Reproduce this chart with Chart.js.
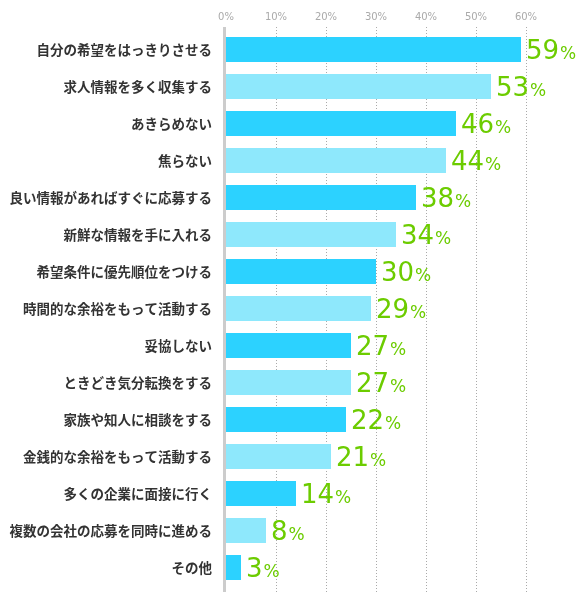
<!DOCTYPE html>
<html lang="ja">
<head>
<meta charset="utf-8">
<title>chart</title>
<script src="https://cdn.jsdelivr.net/npm/chart.js@4.4.1/dist/chart.umd.min.js"></script>
<style>
  html, body { margin: 0; padding: 0; background: #fff; }
  #wrap { width: 579px; height: 597px; }
</style>
</head>
<body>
<div id="wrap"><canvas id="chart" width="579" height="597"></canvas></div>
<script>
const categories = [
  "自分の希望をはっきりさせる",
  "求人情報を多く収集する",
  "あきらめない",
  "焦らない",
  "良い情報があればすぐに応募する",
  "新鮮な情報を手に入れる",
  "希望条件に優先順位をつける",
  "時間的な余裕をもって活動する",
  "妥協しない",
  "ときどき気分転換をする",
  "家族や知人に相談をする",
  "金銭的な余裕をもって活動する",
  "多くの企業に面接に行く",
  "複数の会社の応募を同時に進める",
  "その他"
];
// bar lengths as drawn in the picture
const barValues = [59, 53, 46, 44, 38, 34, 30, 29, 25, 25, 24, 21, 14, 8, 3];
// numbers printed next to the bars
const labelValues = [59, 53, 46, 44, 38, 34, 30, 29, 27, 27, 22, 21, 14, 8, 3];
const tickValues = [0, 10, 20, 30, 40, 50, 60];

const darkBlue = "#2cd2ff";
const lightBlue = "#8ee8fc";
const green = "#6ccc00";

// dotted grid + gray base line, drawn before the bars
const gridPlugin = {
  id: "gridLines",
  beforeDatasetsDraw(chart) {
    const ctx = chart.ctx;
    const x = chart.scales.x;
    const top = 27, bottom = 592;
    ctx.save();
    ctx.strokeStyle = "#aaaaaa";
    ctx.lineWidth = 1;
    ctx.setLineDash([1, 2]);
    tickValues.forEach(v => {
      if (v === 0) return;
      const px = Math.round(x.getPixelForValue(v)) + 0.5;
      ctx.beginPath();
      ctx.moveTo(px, top);
      ctx.lineTo(px, bottom);
      ctx.stroke();
    });
    ctx.setLineDash([]);
    ctx.fillStyle = "#cccccc";
    ctx.fillRect(x.getPixelForValue(0) - 3, top, 3, bottom - top);
    ctx.restore();
  }
};

// "59%" labels at the bar ends
const valueLabels = {
  id: "valueLabels",
  afterDatasetsDraw(chart) {
    const ctx = chart.ctx;
    const meta = chart.getDatasetMeta(0);
    ctx.save();
    ctx.fillStyle = green;
    ctx.textBaseline = "alphabetic";
    ctx.textAlign = "left";
    meta.data.forEach((bar, i) => {
      const num = String(labelValues[i]);
      const x0 = bar.x + 5;
      const y0 = bar.y + 9;
      ctx.font = "26px 'DejaVu Sans'";
      ctx.fillText(num, x0, y0);
      const w = ctx.measureText(num).width;
      ctx.font = "17px 'DejaVu Sans'";
      ctx.fillText("%", x0 + w + 1, y0);
    });
    ctx.restore();
  }
};

new Chart(document.getElementById("chart"), {
  type: "bar",
  data: {
    labels: categories,
    datasets: [{
      data: barValues,
      backgroundColor: categories.map((c, i) => i % 2 === 0 ? darkBlue : lightBlue),
      borderWidth: 0,
      barPercentage: 0.676,
      categoryPercentage: 1.0
    }]
  },
  options: {
    indexAxis: "y",
    responsive: false,
    animation: false,
    devicePixelRatio: 1,
    layout: { padding: { top: 0, right: 3, bottom: 11, left: 0 } },
    plugins: {
      legend: { display: false },
      tooltip: { enabled: false }
    },
    scales: {
      x: {
        position: "top",
        min: 0,
        max: 70,
        afterBuildTicks(scale) {
          scale.ticks = tickValues.map(v => ({ value: v }));
        },
        afterFit(scale) {
          scale.height = 31;
          scale.paddingLeft = 0;
          scale.paddingRight = 0;
        },
        grid: { display: false, drawTicks: false },
        border: { display: false },
        ticks: {
          padding: 8,
          color: "#aaaaaa",
          font: { family: "'DejaVu Sans'", size: 10 },
          callback: v => v + "%"
        }
      },
      y: {
        afterFit(scale) {
          scale.width = 226;
          scale.paddingTop = 0;
          scale.paddingBottom = 0;
        },
        grid: { display: false, drawTicks: false },
        border: { display: false },
        ticks: {
          padding: 14,
          color: "#333333",
          font: { family: "'Noto Sans CJK JP'", size: 13.5, weight: "bold" }
        }
      }
    }
  },
  plugins: [gridPlugin, valueLabels]
});
</script>
</body>
</html>
